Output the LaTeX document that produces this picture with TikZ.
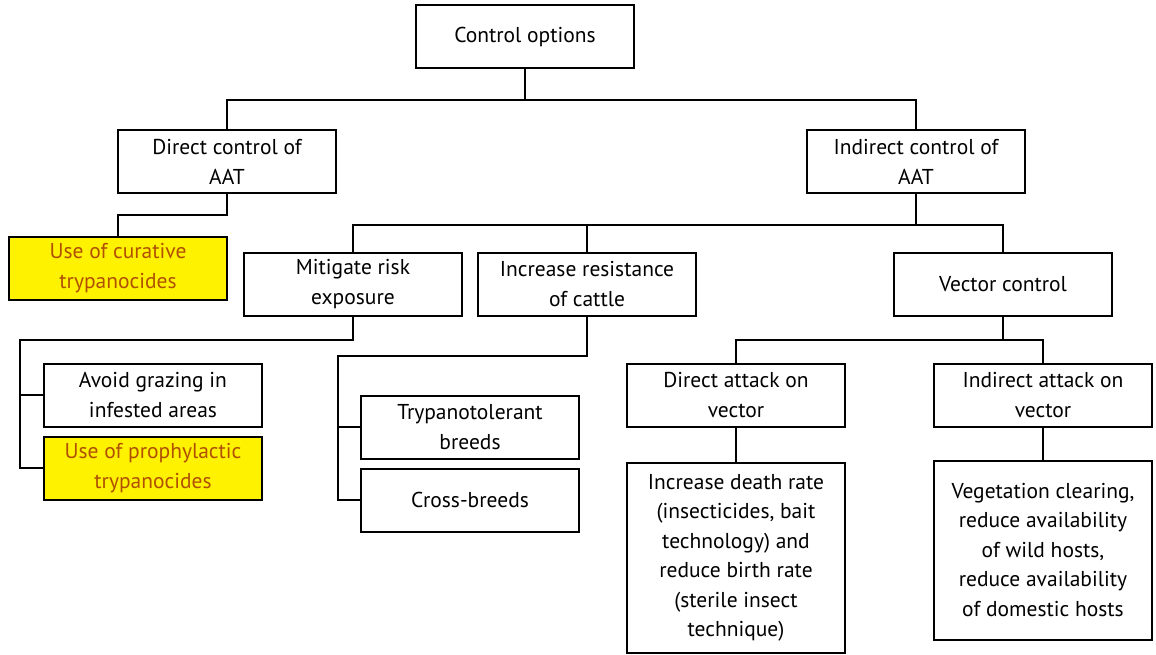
\documentclass[tikz,border=0pt]{standalone}
\usepackage{fontspec}
\setmainfont{PT Sans}
\definecolor{hltext}{RGB}{176,80,0}
\begin{document}
\begin{tikzpicture}[x=1pt, y=-1pt, line width=2pt]
    \tikzstyle{box}=[draw, line width=2pt, minimum width=218pt, minimum height=63pt, align=center, inner sep=2pt, font=\fontsize{21.5}{29.5}\selectfont]
    \tikzstyle{hl}=[box, fill=yellow, text=hltext]
    \useasboundingbox (0,0) rectangle (1156,655);

    \node[box] (ctrl) at (525,37) {Control options};
    \node[box] (direct) at (227,162) {Direct control of\\AAT};
    \node[box] (indirect) at (916,162) {Indirect control of\\AAT};
    \node[hl] (curative) at (118,268) {Use of curative\\trypanocides};
    \node[box] (mitigate) at (353,284) {Mitigate risk\\exposure};
    \node[box] (resist) at (587,284) {Increase resistance\\of cattle};
    \node[box] (vector) at (1003,284) {Vector control};
    \node[box] (avoid) at (153,395) {Avoid grazing in\\infested areas};
    \node[hl] (prophyl) at (153,468) {Use of prophylactic\\trypanocides};
    \node[box] (tolerant) at (470,427) {Trypanotolerant\\breeds};
    \node[box] (cross) at (470,500) {Cross-breeds};
    \node[box] (dattack) at (736,395) {Direct attack on\\vector};
    \node[box] (iattack) at (1043,395) {Indirect attack on\\vector};
    \node[box, minimum height=190pt] (death) at (736,558) {Increase death rate\\(insecticides, bait\\technology) and\\reduce birth rate\\(sterile insect\\technique)};
    \node[box, minimum height=179pt] (clear) at (1043,550) {Vegetation clearing,\\reduce availability\\of wild hosts,\\reduce availability\\of domestic hosts};

    % top level
    \draw (ctrl.south) -- (ctrl.south |- 0,100) -| (direct.north);
    \draw (ctrl.south |- 0,100) -| (indirect.north);
    \draw (direct.south) -- (direct.south |- 0,215) -| (curative.north);
    % indirect branches
    \draw (indirect.south) -- (indirect.south |- 0,225) -| (mitigate.north);
    \draw (indirect.south |- 0,225) -| (resist.north);
    \draw (indirect.south |- 0,225) -| (vector.north);
    % mitigate
    \draw (mitigate.south) -- (mitigate.south |- 0,340) -| (20,468) -- (prophyl.west);
    \draw (20,395) -- (avoid.west);
    % resistance
    \draw (resist.south) -- (resist.south |- 0,356) -| (338,500) -- (cross.west);
    \draw (338,427) -- (tolerant.west);
    % vector control
    \draw (vector.south) -- (vector.south |- 0,340) -| (dattack.north);
    \draw (vector.south |- 0,340) -| (iattack.north);
    \draw (dattack) -- (death);
    \draw (iattack) -- (clear);
\end{tikzpicture}
\end{document}
